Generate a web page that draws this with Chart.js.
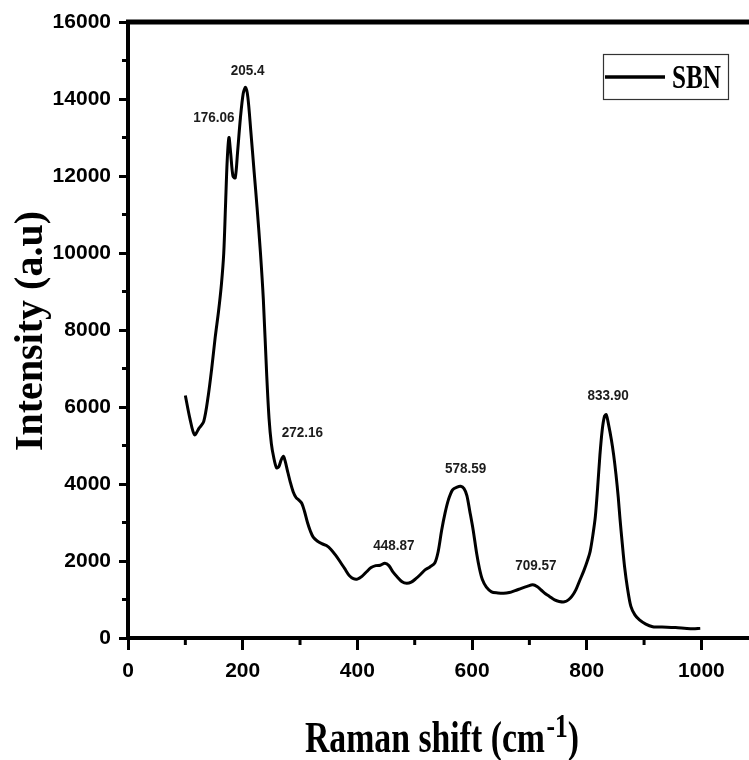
<!DOCTYPE html>
<html>
<head>
<meta charset="utf-8">
<script src="https://cdn.jsdelivr.net/npm/chart.js@4.4.1/dist/chart.umd.min.js"></script>
<style>
  html, body { margin: 0; padding: 0; background: #fff; }
  #wrap { width: 749px; height: 760px; }
</style>
</head>
<body>
<div id="wrap"><canvas id="raman" width="749" height="760"></canvas></div>
<script>
/* Raman spectrum of SBN */

const ramanShift = [
  100, 108, 116, 124, 132, 140, 146, 152, 158, 163, 167, 170, 173, 176, 179, 183, 187, 191, 196, 201,
  205, 209, 214, 220, 225, 231, 236, 242, 246, 250, 254, 259, 263, 267, 271, 274, 278, 283, 288,
  293, 298, 303, 308, 313, 318, 323, 330, 338, 346, 354, 362, 370, 378, 386, 393, 400, 408, 416, 424,
  432, 440, 448, 455, 462, 470, 478, 486, 494, 502, 510, 518, 526, 535, 541, 547, 553, 559, 566, 574,
  580, 586, 591, 596, 602, 608, 613, 618, 625, 634, 645, 655, 665, 675, 686, 696, 706, 714, 721, 728,
  735, 744, 752, 761, 768, 774, 781, 788, 795, 801, 806, 811, 815, 819, 823, 827, 831, 834, 838, 843,
  847, 851, 855, 858, 862, 866, 871, 877, 884, 892, 903, 915, 925, 940, 955, 970, 985, 998
];
const intensity = [
  6300, 5700, 5280, 5450, 5620, 6300, 7000, 7800, 8500, 9200, 10000, 11200, 12400, 13000, 12600, 12000, 11950, 12600, 13500, 14150,
  14300, 14050, 13200, 12100, 11200, 10000, 8800, 6800, 5700, 5050, 4700, 4420, 4450, 4620, 4720, 4600, 4350, 4050, 3800,
  3650, 3580, 3500, 3280, 3000, 2780, 2620, 2520, 2450, 2400, 2300, 2150, 1980, 1800, 1620, 1540, 1530, 1600, 1720, 1830,
  1880, 1890, 1940, 1880, 1720, 1580, 1460, 1420, 1450, 1540, 1650, 1770, 1840, 1950, 2250, 2800, 3250, 3600, 3850, 3920,
  3940, 3880, 3700, 3300, 2800, 2200, 1800, 1520, 1320, 1200, 1170, 1160, 1180, 1230, 1290, 1340, 1380, 1330, 1240, 1150,
  1080, 990, 950, 940, 990, 1080, 1250, 1500, 1750, 2000, 2250, 2700, 3150, 3900, 4750, 5400, 5760, 5800, 5550, 5150,
  4750, 4250, 3650, 3100, 2450, 1850, 1300, 820, 600, 470, 360, 290, 285, 280, 270, 255, 240, 250
];

// labelled band positions (cm-1)
const peakShift = [176.06, 205.4, 272.16, 448.87, 578.59, 709.57, 833.90];
const peakText = ['176.06', '205.4', '272.16', '448.87', '578.59', '709.57', '833.90'];

const xTicks = [0, 200, 400, 600, 800, 1000];
const yTicks = [0, 2000, 4000, 6000, 8000, 10000, 12000, 14000, 16000];

const seriesName = 'SBN';
const xMax = 1083;
const yMax = 16000;

// pixel nudges for the band labels, relative to the curve point
const peakNudge = [[-15, -20], [2, -17], [19, -23], [9, -17], [5, -17], [3, -19], [2, -19]];

const SANS = "'Liberation Sans', Arial, sans-serif";
const SERIF = "'Liberation Serif', 'Times New Roman', serif";

function drawText(ctx, text, x, y, font, sx, align) {
  ctx.save();
  ctx.font = font;
  ctx.translate(x, y);
  ctx.scale(sx, 1);
  ctx.textAlign = align || 'left';
  ctx.fillText(text, 0, 0);
  ctx.restore();
}

const decorPlugin = {
  id: 'decor',
  afterDraw(chart) {
    const { ctx, chartArea: ca, scales } = chart;
    const xs = scales.x, ys = scales.y;
    ctx.save();
    ctx.strokeStyle = '#000';
    ctx.fillStyle = '#000';

    // top frame line
    ctx.lineWidth = 5;
    ctx.beginPath();
    ctx.moveTo(ca.left - 2, ca.top);
    ctx.lineTo(chart.width, ca.top);
    ctx.stroke();

    // minor ticks
    ctx.lineWidth = 3;
    for (let v = 1000; v < yMax; v += 2000) {
      const p = ys.getPixelForValue(v);
      ctx.beginPath(); ctx.moveTo(ca.left, p); ctx.lineTo(ca.left - 6, p); ctx.stroke();
    }
    for (let v = 100; v < xMax; v += 200) {
      const p = xs.getPixelForValue(v);
      ctx.beginPath(); ctx.moveTo(p, ca.bottom); ctx.lineTo(p, ca.bottom + 7); ctx.stroke();
    }

    // band labels
    ctx.fillStyle = '#1c1c1c';
    ctx.textBaseline = 'middle';
    peakShift.forEach((s, i) => {
      let best = 0;
      ramanShift.forEach((r, j) => { if (Math.abs(r - s) < Math.abs(ramanShift[best] - s)) best = j; });
      const px = xs.getPixelForValue(ramanShift[best]) + peakNudge[i][0];
      const py = ys.getPixelForValue(intensity[best]) + peakNudge[i][1];
      drawText(ctx, peakText[i], px, py, 'bold 15px ' + SANS, 0.9, 'center');
    });

    // legend
    ctx.fillStyle = '#000';
    ctx.lineWidth = 1.2;
    ctx.strokeStyle = '#333';
    ctx.strokeRect(603.5, 54.5, 125, 45);
    ctx.lineWidth = 3.5;
    ctx.strokeStyle = chart.data.datasets[0].borderColor;
    ctx.beginPath(); ctx.moveTo(605, 77); ctx.lineTo(665, 77); ctx.stroke();
    ctx.textBaseline = 'alphabetic';
    drawText(ctx, chart.data.datasets[0].label, 672, 88, 'bold 34px ' + SERIF, 0.74, 'left');

    // y axis title
    ctx.save();
    ctx.translate(42, 331);
    ctx.rotate(-Math.PI / 2);
    ctx.font = 'bold 40px ' + SERIF;
    ctx.textAlign = 'center';
    ctx.fillText('Intensity (a.u)', 0, 0);
    ctx.restore();

    // x axis title with superscript
    ctx.save();
    ctx.translate(305, 752);
    ctx.scale(0.75, 1);
    ctx.font = 'bold 45px ' + SERIF;
    const base = 'Raman shift (cm';
    ctx.fillText(base, 0, 0);
    let w = ctx.measureText(base).width;
    ctx.font = 'bold 34px ' + SERIF;
    ctx.fillText('-1', w + 2, -15);
    w += ctx.measureText('-1').width + 2;
    ctx.font = 'bold 45px ' + SERIF;
    ctx.fillText(')', w, 0);
    ctx.restore();

    ctx.restore();
  }
};

new Chart(document.getElementById('raman'), {
  type: 'line',
  data: {
    datasets: [{
      label: seriesName,
      data: ramanShift.map((x, i) => ({ x, y: intensity[i] })),
      borderColor: '#000',
      borderWidth: 3,
      pointRadius: 0,
      fill: false,
      tension: 0.3,
    }],
  },
  options: {
    responsive: false,
    animation: false,
    events: [],
    layout: { padding: { top: 22, left: 0, right: 0, bottom: 0 } },
    plugins: { legend: { display: false }, tooltip: { enabled: false } },
    scales: {
      x: {
        type: 'linear',
        min: 0, max: xMax,
        afterBuildTicks: axis => { axis.ticks = xTicks.map(v => ({ value: v })); },
        afterFit: axis => { axis.height = 122; },
        border: { display: true, color: '#000', width: 4 },
        grid: { drawOnChartArea: false, drawTicks: true, tickLength: 12, tickWidth: 3, tickColor: '#000' },
        ticks: { color: '#000', padding: 9, font: { family: SANS, size: 21, weight: 'bold' }, maxRotation: 0, callback: v => String(v) },
      },
      y: {
        type: 'linear',
        min: 0, max: yMax,
        afterBuildTicks: axis => { axis.ticks = yTicks.map(v => ({ value: v })); },
        afterFit: axis => { axis.width = 128; },
        border: { display: true, color: '#000', width: 4 },
        grid: { drawOnChartArea: false, drawTicks: true, tickLength: 9, tickWidth: 3, tickColor: '#000' },
        ticks: { color: '#000', padding: 8, font: { family: SANS, size: 21, weight: 'bold' }, callback: v => String(v) },
      },
    },
  },
  plugins: [decorPlugin],
});
</script>
</body>
</html>
